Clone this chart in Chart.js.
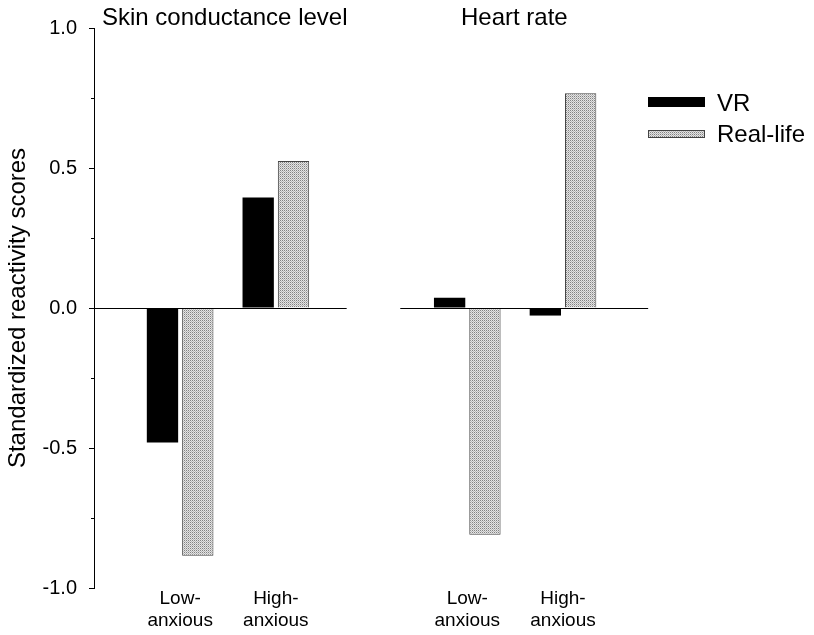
<!DOCTYPE html>
<html>
<head>
<meta charset="utf-8">
<script src="https://cdn.jsdelivr.net/npm/chart.js@4.4.1/dist/chart.umd.min.js"></script>
<style>
  body { margin: 0; background: #fff; }
  #wrap { position: relative; width: 814px; height: 635px; }
</style>
</head>
<body>
<div id="wrap"><canvas id="chart" width="814" height="635"></canvas></div>
<script>
// data
const panelTitles = ['Skin conductance level', 'Heart rate'];
const groups = [['Low-', 'anxious'], ['High-', 'anxious']];
const seriesNames = ['VR', 'Real-life'];
// order: SCL low, SCL high, HR low, HR high
const vrValues = [-0.48, 0.395, 0.037, -0.027];
const realValues = [-0.885, 0.525, -0.81, 0.767];
const yTicks = [-1.0, -0.5, 0.0, 0.5, 1.0];
const yMinorTicks = [-0.75, -0.25, 0.25, 0.75];

// layout (x in group units, one panel = 3 units)
const xMin = -0.9, xMax = 4.93;
const panelSpans = [[-0.9, 1.74], [2.3, 4.89]];
const titleX = [102, 461];
const FONT = 'Arial, "Liberation Sans", sans-serif';

const xPos = [];
panelTitles.forEach((p, pi) => groups.forEach((g, gi) => xPos.push(pi * 3 + gi)));

// stipple fill for Real-life
function makeStipple() {
  const c = document.createElement('canvas');
  c.width = 2; c.height = 2;
  const g = c.getContext('2d');
  g.fillStyle = '#e4e4e4'; g.fillRect(0, 0, 2, 2);
  g.fillStyle = '#828282'; g.fillRect(0, 0, 1, 1);
  g.fillStyle = '#b8b8b8'; g.fillRect(1, 1, 1, 1);
  return g.createPattern(c, 'repeat');
}
const stipple = makeStipple();

const decorations = {
  id: 'decorations',
  afterDatasetsDraw(chart) {
    const ctx = chart.ctx;
    const x = chart.scales.x, y = chart.scales.y;
    const y0 = Math.round(y.getPixelForValue(0)) + 0.5;
    ctx.save();
    ctx.strokeStyle = '#000';
    ctx.lineWidth = 1;
    panelSpans.forEach(s => {
      ctx.beginPath();
      ctx.moveTo(x.getPixelForValue(s[0]), y0);
      ctx.lineTo(x.getPixelForValue(s[1]), y0);
      ctx.stroke();
    });
    // minor ticks on y axis
    const ax = chart.chartArea.left;
    yMinorTicks.forEach(v => {
      const py = Math.round(y.getPixelForValue(v)) + 0.5;
      ctx.beginPath();
      ctx.moveTo(ax - 3, py);
      ctx.lineTo(ax, py);
      ctx.stroke();
    });
    ctx.restore();
  },
  afterDraw(chart) {
    const ctx = chart.ctx;
    ctx.save();
    ctx.fillStyle = '#000';
    ctx.font = '24px ' + FONT;
    ctx.textBaseline = 'alphabetic';
    panelTitles.forEach((t, i) => ctx.fillText(t, titleX[i], 25));
    // legend
    const boxes = [[97, 10], [130, 8]];
    chart.data.datasets.forEach((ds, i) => {
      ctx.fillStyle = ds.backgroundColor;
      ctx.fillRect(648, boxes[i][0], 57, boxes[i][1]);
      if (ds.borderWidth) {
        ctx.strokeStyle = ds.borderColor;
        ctx.lineWidth = 1;
        ctx.strokeRect(648.5, boxes[i][0] + 0.5, 56, boxes[i][1] - 1);
      }
      ctx.fillStyle = '#000';
      ctx.fillText(ds.label, 717, i === 0 ? 111 : 142);
    });
    ctx.restore();
  }
};

new Chart(document.getElementById('chart'), {
  type: 'bar',
  data: {
    datasets: [
      {
        label: seriesNames[0],
        data: vrValues.map((v, i) => ({ x: xPos[i], y: v })),
        backgroundColor: '#000',
        borderColor: '#000',
        borderWidth: 0
      },
      {
        label: seriesNames[1],
        data: realValues.map((v, i) => ({ x: xPos[i], y: v })),
        backgroundColor: stipple,
        borderColor: '#444444',
        borderWidth: 1
      }
    ]
  },
  options: {
    responsive: false,
    animation: false,
    events: [],
    layout: { padding: { top: 28, right: 814 - 652, left: 0, bottom: 0 } },
    categoryPercentage: 0.738,
    barPercentage: 0.887,
    plugins: { legend: { display: false }, tooltip: { enabled: false } },
    scales: {
      x: {
        type: 'linear',
        offset: false,
        min: xMin,
        max: xMax,
        afterBuildTicks: s => { s.ticks = xPos.map(v => ({ value: v })); },
        afterFit: s => { s.height = 47; },
        grid: { display: false, drawTicks: false, offset: false },
        border: { display: false },
        ticks: {
          autoSkip: false,
          maxRotation: 0,
          padding: 0,
          color: '#000',
          font: { family: FONT, size: 19, lineHeight: 1.15 },
          callback: v => groups[v % 3] || ''
        }
      },
      y: {
        min: -1,
        max: 1,
        afterBuildTicks: s => { s.ticks = yTicks.map(v => ({ value: v })); },
        afterFit: s => { s.width = 94; },
        border: { display: true, color: '#000', width: 1 },
        grid: { drawOnChartArea: false, drawTicks: true, tickLength: 5, color: '#000' },
        ticks: {
          padding: 12,
          color: '#000',
          font: { family: FONT, size: 20 },
          callback: v => v.toFixed(1)
        },
        title: {
          display: true,
          text: 'Standardized reactivity scores',
          color: '#000',
          font: { family: FONT, size: 24 },
          padding: { top: 4, bottom: 0 }
        }
      }
    }
  },
  plugins: [decorations]
});
</script>
</body>
</html>
